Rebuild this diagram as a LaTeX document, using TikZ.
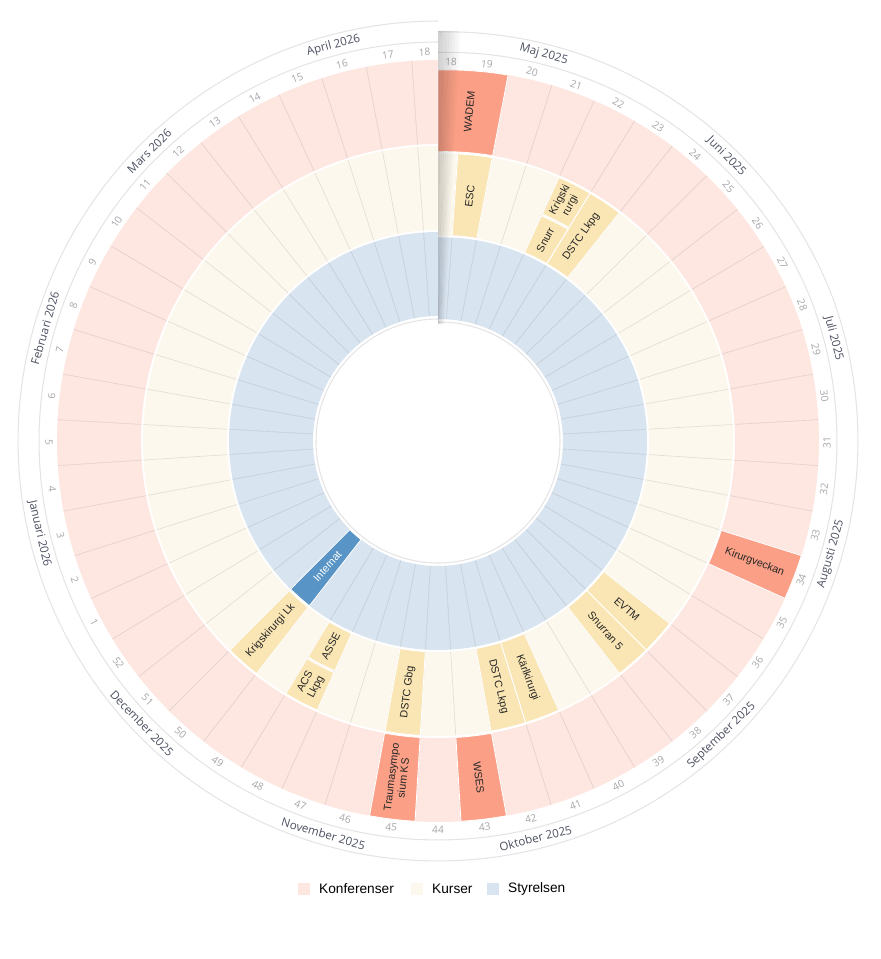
\documentclass[tikz,border=0pt]{standalone}
\usepackage{fontspec}
\setmainfont{Liberation Sans}
\newfontfamily\rimfont{Open Sans}
\usetikzlibrary{positioning}

\definecolor{konfbg}{RGB}{254,230,225}
\definecolor{konfev}{RGB}{251,160,135}
\definecolor{kursbg}{RGB}{252,248,237}
\definecolor{kursev}{RGB}{250,229,180}
\definecolor{stybg}{RGB}{216,228,240}
\definecolor{styev}{RGB}{88,148,197}
\definecolor{rimgray}{RGB}{228,228,230}
\definecolor{wkgray}{RGB}{165,165,170}
\definecolor{mogray}{RGB}{75,80,96}

\newcommand{\ringseg}[5]{%
  \fill[#5] plot[domain=#1:#2,samples=7,variable=\t] ({wkang(\t)}:{#4*wkr(\t)})
    -- plot[domain=#2:#1,samples=7,variable=\t] ({wkang(\t)}:{#3*wkr(\t)}) -- cycle;}

\newcommand{\evt}[8]{%
  \ringseg{#2}{#3}{#4}{#5}{#6}
  \pgfmathsetmacro\dm{(#2+#3)/2}
  \pgfmathsetmacro\th{\dm/365*360}
  \pgfmathsetmacro\rr{\th<180 ? 90-\th : 270-\th}
  \node[#7,rotate=\rr] (#1) at ({wkang(\dm)}:{(#4+#5)/2*wkr(\dm)}) {#8};}

\begin{document}
\begin{tikzpicture}[x=0.02cm,y=0.02cm,
   declare function={wkang(\d)=90-\d/365*360; wkr(\d)=1-0.026*max(0,1-\d/71);},
   wkline/.style={draw=black,draw opacity=0.1,line width=0.4pt},
   rimline/.style={draw=rimgray,line width=0.6pt},
   wklbl/.style={font=\rimfont\fontsize{5.8}{6}\selectfont,text=wkgray,inner sep=0pt},
   molbl/.style={font=\rimfont\fontsize{6.6}{7}\selectfont,text=mogray,inner sep=0pt},
   evkonf/.style={fill=konfev,draw=white,line width=0.5pt},
   evkurs/.style={fill=kursev,draw=white,line width=0.5pt},
   evsty/.style={fill=styev,draw=white,line width=0.5pt},
   evtxt/.style={font=\fontsize{6.1}{6.8}\selectfont,text=black!85,align=center,inner sep=0pt},
   legsq/.style={minimum size=0.24cm,inner sep=0pt},
   legtxt/.style={font=\fontsize{7.8}{8}\selectfont,inner sep=0pt}]
\useasboundingbox (-438,-518) rectangle (442,441);

\foreach \j in {0,...,52}{
  \pgfmathsetmacro\da{max(0,7*\j-3)}
  \pgfmathsetmacro\db{min(365,7*\j+4)}
  \pgfmathsetmacro\dm{(\da+\db)/2}
  \pgfmathsetmacro\th{\dm/365*360}
  \pgfmathsetmacro\rr{and(\th>90,\th<270) ? 180-\th : -\th}
  \pgfmathtruncatemacro\wn{\j<35 ? 18+\j : \j-34}
  \ringseg{\da}{\db}{297}{381}{konfbg}
  \ringseg{\da}{\db}{211}{295}{kursbg}
  \ringseg{\da}{\db}{125}{209}{stybg}
  \ifnum\j>0
    \draw[wkline] ({wkang(\da)}:{297*wkr(\da)}) -- ({wkang(\da)}:{381*wkr(\da)})
      ({wkang(\da)}:{211*wkr(\da)}) -- ({wkang(\da)}:{295*wkr(\da)})
      ({wkang(\da)}:{125*wkr(\da)}) -- ({wkang(\da)}:{209*wkr(\da)});
  \fi
  \node[wklbl,rotate=\rr] (wk\j) at ({wkang(\dm)}:{389*wkr(\dm)}) {\wn};
}

\evt{wadem}{0}{11}{297}{381}{evkonf}{evtxt}{WADEM}
\evt{kirurgv}{109}{116}{297}{381}{evkonf}{evtxt}{Kirurgveckan}
\evt{wses}{172}{179}{297}{381}{evkonf}{evtxt}{WSES}
\evt{trauma}{186}{193}{297}{381}{evkonf}{evtxt}{Traumasympo\\sium KS}
\evt{esc}{4}{11}{211}{295}{evkurs}{evtxt}{ESC}
\evt{krig}{25}{32}{254}{295}{evkurs}{evtxt}{Krigski\\rurgi}
\evt{snurr}{25}{32}{211}{252}{evkurs}{evtxt}{Snurr}
\evt{dstclkpg}{32}{39}{211}{295}{evkurs}{evtxt}{DSTC Lkpg}
\evt{evtm}{130}{137}{211}{295}{evkurs}{evtxt}{EVTM}
\evt{snurran}{137}{144}{211}{295}{evkurs}{evtxt}{Snurran 5}
\evt{karl}{158}{165}{211}{295}{evkurs}{evtxt}{Kärlkirurgi}
\evt{dstclkpgb}{165}{172}{211}{295}{evkurs}{evtxt}{DSTC Lkpg}
\evt{dstcgbg}{186}{193}{211}{295}{evkurs}{evtxt}{DSTC Gbg}
\evt{asse}{207}{214}{211}{252}{evkurs}{evtxt}{ASSE}
\evt{acs}{207}{214}{254}{295}{evkurs}{evtxt}{ACS\\Lkpg}
\evt{kriglk}{221}{228}{211}{295}{evkurs}{evtxt}{Krigskirurgi Lk}
\evt{internat}{221}{228}{125}{209}{evsty}{evtxt,text=white}{Internat}

\draw[rimline] plot[domain=0:365,samples=200,variable=\t] ({wkang(\t)}:{122*wkr(\t)});
\draw[rimline] plot[domain=0:365,samples=200,variable=\t] ({wkang(\t)}:{399*wkr(\t)});
\draw[rimline] plot[domain=0:365,samples=200,variable=\t] ({wkang(\t)}:{420*wkr(\t)});

\foreach \mo/\dm [count=\i] in {Maj 2025/15.5,Juni 2025/46,Juli 2025/76.5,Augusti 2025/107.5,
    September 2025/138,Oktober 2025/168.5,November 2025/199,December 2025/229.5,
    Januari 2026/260.5,Februari 2026/290,Mars 2026/319.5,April 2026/350}{
  \pgfmathsetmacro\th{\dm/365*360}
  \pgfmathsetmacro\rr{and(\th>90,\th<270) ? 180-\th : -\th}
  \node[molbl,rotate=\rr] (mo\i) at ({wkang(\dm)}:{409*wkr(\dm)}) {\mo};
}

\foreach \k in {0,...,7}{
  \pgfmathsetmacro\sa{\k*0.4}
  \pgfmathsetmacro\sb{(\k+1)*0.4}
  \pgfmathsetmacro\op{0.18*(1-\k/8)}
  \ringseg{\sa}{\sb}{120}{421}{black,fill opacity=\op}
}

\node[legsq,fill=konfbg] (legkonf) at (-134,-448) {};
\node[legtxt,right=0.17cm of legkonf] (legkonftxt) {Konferenser};
\node[legsq,fill=kursbg] (legkurs) at (-21,-448) {};
\node[legtxt,right=0.17cm of legkurs] (legkurstxt) {Kurser};
\node[legsq,fill=stybg] (legsty) at (55,-448) {};
\node[legtxt,right=0.17cm of legsty] (legstytxt) {Styrelsen};
\end{tikzpicture}
\end{document}
